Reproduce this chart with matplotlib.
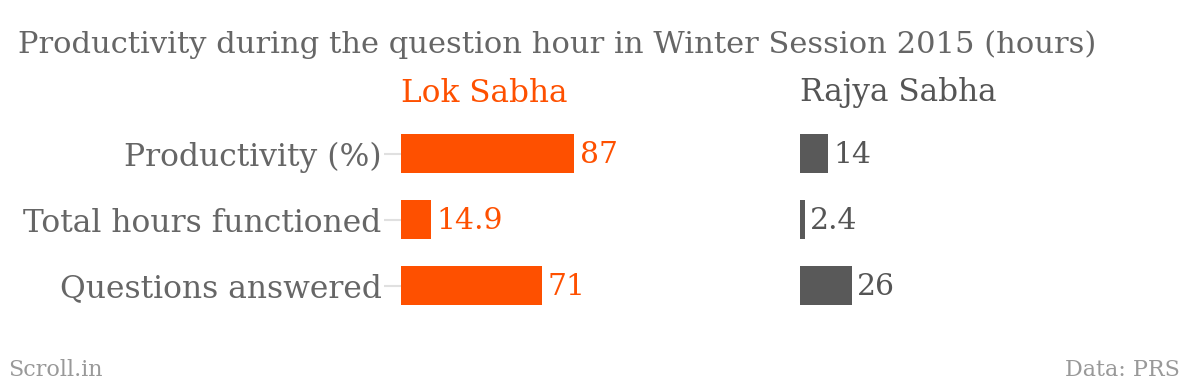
import matplotlib
matplotlib.use("Agg")
import matplotlib.pyplot as plt

categories = ["Productivity (%)", "Total hours functioned", "Questions answered"]
lok_sabha = [87, 14.9, 71]
rajya_sabha = [14, 2.4, 26]
lok_labels = ["87", "14.9", "71"]
rajya_labels = ["14", "2.4", "26"]
panel_titles = ["Lok Sabha", "Rajya Sabha"]

W, H = 1200, 386
fig = plt.figure(figsize=(W / 100, H / 100), dpi=100)
fig.patch.set_facecolor("white")
FONT = "DejaVu Serif"
TXT = "#666666"
ORANGE = "#fe5000"
GREY = "#595959"

px_per_unit = 1.99
axw = 350

renderer = fig.canvas.get_renderer()

def fit(t, target_w):
    bb = t.get_window_extent(renderer=renderer)
    t.set_fontsize(t.get_fontsize() * target_w / bb.width)

bottom = (H - 318.5) / H
height = 198 / H
axes = []
for left, vals, labs, col, title, tcol in [
    (401, lok_sabha, lok_labels, ORANGE, panel_titles[0], ORANGE),
    (800, rajya_sabha, rajya_labels, GREY, panel_titles[1], "#555555"),
]:
    ax = fig.add_axes([left / W, bottom, axw / W, height])
    ax.barh(range(len(vals)), vals, height=0.59, color=col)
    ax.set_xlim(0, axw / px_per_unit)
    ax.set_ylim(len(vals) - 0.5, -0.5)
    for s in ax.spines.values():
        s.set_visible(False)
    ax.set_xticks([])
    for i, (v, l) in enumerate(zip(vals, labs)):
        ax.annotate(l, (v, i), xytext=(4, -1), textcoords="offset points",
                    ha="left", va="center", fontsize=21.5, family=FONT,
                    color=col if col == ORANGE else "#555555")
    axes.append(ax)
    fig.text(left / W, 1 - 93 / H, title, ha="left", va="center",
             fontsize=22.4, family=FONT, color=tcol)

ax1, ax2 = axes
ax1.set_yticks(range(len(categories)))
ax1.set_yticklabels(categories, family=FONT, fontsize=22.6, color=TXT)
ax1.tick_params(axis="y", length=12, width=1.5, color="#e0e0e0", pad=2)
ax2.set_yticks([])

t = fig.text(18 / W, 1 - 45 / H, "Productivity during the question hour in Winter Session 2015 (hours)",
             ha="left", va="center", fontsize=22, family=FONT, color=TXT)
fit(t, 1075)

fig.text(8 / W, 1 - 370 / H, "Scroll.in", ha="left", va="center", fontsize=16, family=FONT, color="#999999")
fig.text(1180 / W, 1 - 370 / H, "Data: PRS", ha="right", va="center", fontsize=16, family=FONT, color="#999999")

fig.savefig("out.png", dpi=100, facecolor="white")
